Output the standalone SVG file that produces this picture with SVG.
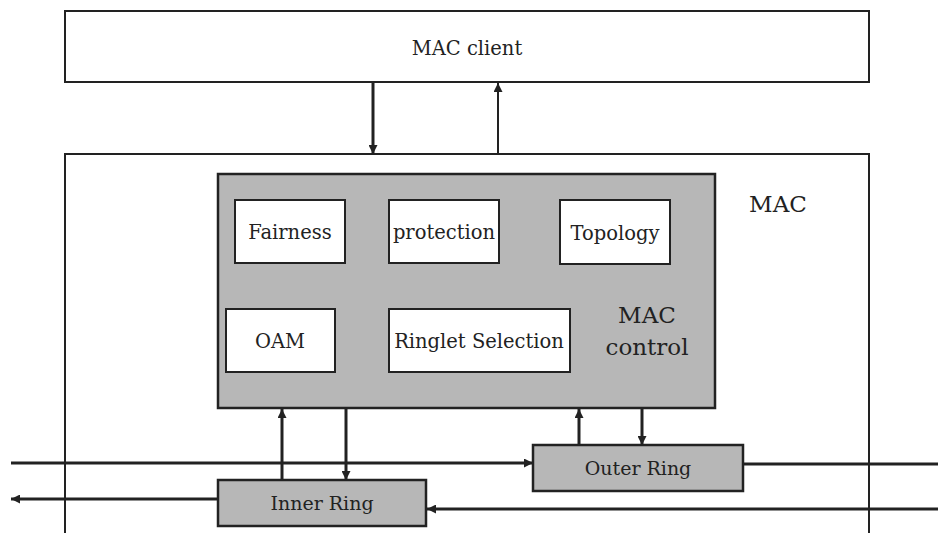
<svg xmlns="http://www.w3.org/2000/svg" width="938" height="533" viewBox="0 0 938 533">
<style>
.box{fill:#fff;stroke:#222;stroke-width:2}
.shade{fill:#b7b7b7;stroke:#222;stroke-width:2.5}
.t{font-family:"DejaVu Serif","Liberation Serif",serif;font-size:19.5px;fill:#222;text-anchor:middle}
.big{font-size:23px}
.r{font-size:19px}
.c{stroke:#222;stroke-width:3;fill:none}
.thin{stroke:#222;stroke-width:2;fill:none}
</style>
<defs>
<marker id="ah" viewBox="0 0 10 10" refX="10" refY="5" markerWidth="9" markerHeight="9" markerUnits="userSpaceOnUse" orient="auto">
<path d="M0,0 L10,5 L0,10 z" fill="#222"/>
</marker>
</defs>
<rect width="938" height="533" fill="#fff"/>
<g id="mac-client">
<rect class="box" x="65" y="11" width="804" height="71"/>
<text class="t" x="467" y="55">MAC client</text>
</g>
<g id="mac">
<path class="thin" d="M65,533 V154 H869 V533"/>
<text class="t big" x="778" y="212">MAC</text>
</g>
<g id="mac-control">
<rect class="shade" x="218" y="174" width="497" height="234"/>
<text class="t big" x="647" y="323">MAC</text>
<text class="t big" x="647" y="355">control</text>
</g>
<g id="fairness">
<rect class="box" x="235" y="200" width="110" height="63"/>
<text class="t" x="290" y="239">Fairness</text>
</g>
<g id="protection">
<rect class="box" x="389" y="200" width="110" height="63"/>
<text class="t" x="444" y="239">protection</text>
</g>
<g id="topology">
<rect class="box" x="560" y="200" width="110" height="64"/>
<text class="t" x="615" y="240">Topology</text>
</g>
<g id="oam">
<rect class="box" x="226" y="309" width="109" height="63"/>
<text class="t" x="280" y="348">OAM</text>
</g>
<g id="ringlet-selection">
<rect class="box" x="389" y="309" width="181" height="63"/>
<text class="t" x="479" y="348">Ringlet Selection</text>
</g>
<g id="inner-ring">
<rect class="shade" x="218" y="480" width="208" height="46"/>
<text class="t r" x="322" y="510">Inner Ring</text>
</g>
<g id="outer-ring">
<rect class="shade" x="533" y="445" width="210" height="46"/>
<text class="t r" x="638" y="475">Outer Ring</text>
</g>
<g id="connectors">
<line class="c" x1="373" y1="83" x2="373" y2="154" marker-end="url(#ah)"/>
<line class="thin" x1="498" y1="154" x2="498" y2="83" marker-end="url(#ah)"/>
<line class="c" x1="282" y1="480" x2="282" y2="409" marker-end="url(#ah)"/>
<line class="c" x1="346" y1="409" x2="346" y2="480" marker-end="url(#ah)"/>
<line class="c" x1="579" y1="445" x2="579" y2="409" marker-end="url(#ah)"/>
<line class="c" x1="642" y1="409" x2="642" y2="445" marker-end="url(#ah)"/>
<line class="c" x1="11" y1="463" x2="533" y2="463" marker-end="url(#ah)"/>
<line class="c" x1="743" y1="464" x2="938" y2="464"/>
<line class="c" x1="938" y1="509" x2="427" y2="509" marker-end="url(#ah)"/>
<line class="c" x1="218" y1="499" x2="11" y2="499" marker-end="url(#ah)"/>
</g>
</svg>
